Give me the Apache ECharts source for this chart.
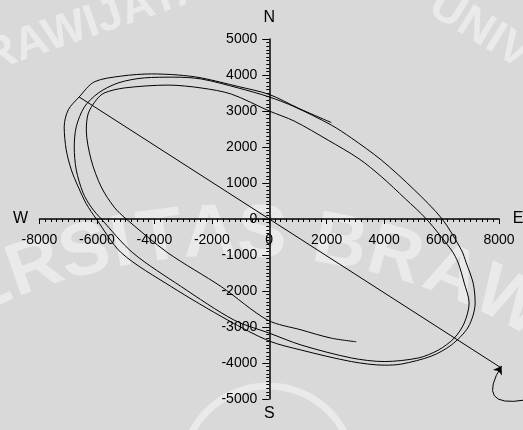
<!DOCTYPE html>
<html>
<head>
<meta charset="utf-8">
<script src="https://cdn.jsdelivr.net/npm/echarts@6/dist/echarts.min.js"></script>
<style>html,body{margin:0;padding:0;background:#d9d9d9;}#c{width:523px;height:430px;}</style>
</head>
<body>
<div id="c"></div>
<script>
// Axis ranges / ticks
const xTicks = { min: -8000, max: 8000, interval: 2000 };
const yTicks = { min: -5000, max: 5000, interval: 1000 };
const compass = ['N', 'E', 'S', 'W'];

// Current trajectory (spiral path)
const trajX = [2160,1010,0,-1080,-2370,-3170,-4110,-5150,-6090,-6620,-7000,-7140,-7070,-6890,-6650,-6370,-6020,-5150,-3410,-1440,0,1110,2860,4000,4600,5640,6340,6930,7170,7100,6860,6690,6020,5050,3900,2860,2160,870,0,-1080,-2370,-3310,-4350,-5260,-5950,-6440,-6720,-6790,-6720,-6480,-6200,-5850,-4750,-3060,-1220,0,1110,2860,4000,5190,5890,6440,6790,6960,6790,6580,6340,5470,4740,3900,3130,2050,870,0,-1320,-2370,-3520,-5050,-5750,-6020,-6300,-6370,-6200,-5850,-5400,-4980,-3530,-1670,-50,1110,2160,3030];
const trajY = [2680,3080,3460,3680,3920,4000,4030,3970,3810,3390,3030,2560,1920,1360,890,420,0,-940,-1880,-2810,-3390,-3640,-3960,-4060,-4030,-3810,-3500,-3000,-2330,-1780,-1220,-860,0,810,1640,2250,2610,3120,3390,3640,3890,3940,3920,3780,3500,3110,2560,2000,1360,720,330,0,-940,-1880,-2810,-3170,-3500,-3860,-3960,-3860,-3640,-3310,-2890,-2330,-1780,-1220,-860,0,560,1180,1670,2190,2720,3000,3470,3640,3720,3640,3500,3310,2940,2470,1640,890,330,0,-940,-1880,-2810,-3080,-3310,-3410];

// Straight (major axis) line
const axisLineX = [-6620, 9500];
const axisLineY = [3390, -4866];

// Curved rotation arrow (start, end)
const arrowX = [8890, 8090];
const arrowY = [-5030, -4080];

// Background watermark text
const wmArcLetters = ['E','R','S','I','T','A','S','B','R','A','W'];
const wmTopLeft = 'RAWIJAYA';
const wmTopRight = 'UNIV';

const chart = echarts.init(document.getElementById('c'), null, { renderer: 'canvas' });
const font = 'Liberation Sans, Arial, sans-serif';

const trajData = trajX.map((x, i) => [x, trajY[i]]);
const lineData = axisLineX.map((x, i) => [x, axisLineY[i]]);

const gridLeft = 39.5, gridRight = 24, gridTop = 39, gridBottom = 31;
const W = 523, H = 430;
const gridW = W - gridLeft - gridRight, gridH = H - gridTop - gridBottom;

const option = {
  backgroundColor: '#d9d9d9',
  animation: false,
  grid: { left: gridLeft, right: gridRight, top: gridTop, bottom: gridBottom, outerBoundsMode: 'none', containLabel: false },
  xAxis: {
    type: 'value', min: xTicks.min, max: xTicks.max, interval: xTicks.interval,
    position: 'bottom', offset: -gridH / 2,
    axisLine: { onZero: false, lineStyle: { color: '#000', width: 1.5 } },
    axisTick: { show: true, length: 5, lineStyle: { color: '#000', width: 1 } },
    minorTick: { show: true, splitNumber: 10, length: 3, lineStyle: { color: '#000', width: 1 } },
    axisLabel: { color: '#000', fontSize: 14, fontFamily: font, margin: 14, showMinLabel: true, showMaxLabel: true, hideOverlap: false, formatter: v => String(v) },
    splitLine: { show: false }
  },
  yAxis: {
    type: 'value', min: yTicks.min, max: yTicks.max, interval: yTicks.interval,
    position: 'left', offset: -gridW / 2,
    axisLine: { onZero: false, lineStyle: { color: '#000', width: 1.5 } },
    axisTick: { show: true, length: 7, lineStyle: { color: '#000', width: 1 } },
    minorTick: { show: true, splitNumber: 10, length: 3, lineStyle: { color: '#000', width: 1 } },
    axisLabel: { color: '#000', fontSize: 14, fontFamily: font, margin: 12, showMinLabel: true, showMaxLabel: true, hideOverlap: false, formatter: v => String(v) },
    splitLine: { show: false }
  },
  series: [
    {
      type: 'line', data: trajData, smooth: 0.3, showSymbol: false, clip: false,
      lineStyle: { color: '#000', width: 1 }
    },
    {
      type: 'line', data: lineData, showSymbol: false, clip: false,
      lineStyle: { color: '#000', width: 1 }
    },
    {
      type: 'lines', coordinateSystem: 'cartesian2d', clip: false,
      symbol: ['none', 'arrow'], symbolSize: 8,
      lineStyle: { color: '#000', width: 1, curveness: 1.1, opacity: 1 },
      data: [{ coords: [[arrowX[0], arrowY[0]], [arrowX[1], arrowY[1]]] }]
    }
  ]
};
chart.setOption(option);

// Compass letters placed beyond axis ends
const pN = chart.convertToPixel({ gridIndex: 0 }, [0, yTicks.max]);
const pS = chart.convertToPixel({ gridIndex: 0 }, [0, yTicks.min]);
const pE = chart.convertToPixel({ gridIndex: 0 }, [xTicks.max, 0]);
const pW = chart.convertToPixel({ gridIndex: 0 }, [xTicks.min, 0]);
const txt = (t, x, y) => ({ type: 'text', x: x, y: y, z: 10, style: { text: t, fill: '#000', font: '16px ' + font, align: 'center', verticalAlign: 'middle' } });

// Watermark (decorative), letters along an arc
const wmFill = 'rgba(255,255,255,0.45)';
const arcCx = 233, arcCy = 833, arcR = 598;
const arcXs = [-15, 35, 85, 122, 160, 210, 262, 340, 395, 452, 510];
const wm = wmArcLetters.map((ch, i) => {
  const s = (arcXs[i] - arcCx) / arcR;
  const th = Math.asin(s);
  return {
    type: 'text', x: arcCx + arcR * Math.sin(th), y: arcCy - arcR * Math.cos(th), rotation: -th, z: -10,
    style: { text: ch, fill: wmFill, font: 'bold 74px ' + font, align: 'center', verticalAlign: 'middle' }
  };
});
wm.push({ type: 'text', x: 95, y: 22, rotation: 0.33, z: -10,
  style: { text: wmTopLeft, fill: wmFill, font: 'bold 46px ' + font, align: 'center', verticalAlign: 'middle' } });
wm.push({ type: 'text', x: 480, y: 30, rotation: -0.55, z: -10,
  style: { text: wmTopRight, fill: wmFill, font: 'bold 46px ' + font, align: 'center', verticalAlign: 'middle' } });
wm.push({ type: 'circle', shape: { cx: 268, cy: 472, r: 86 }, z: -10,
  style: { fill: 'none', stroke: wmFill, lineWidth: 7 } });

chart.setOption({
  graphic: wm.concat([
    txt(compass[0], pN[0], pN[1] - 21),
    txt(compass[1], pE[0] + 19, pE[1]),
    txt(compass[2], pS[0], pS[1] + 15),
    txt(compass[3], pW[0] - 19, pW[1])
  ])
});
</script>
</body>
</html>
